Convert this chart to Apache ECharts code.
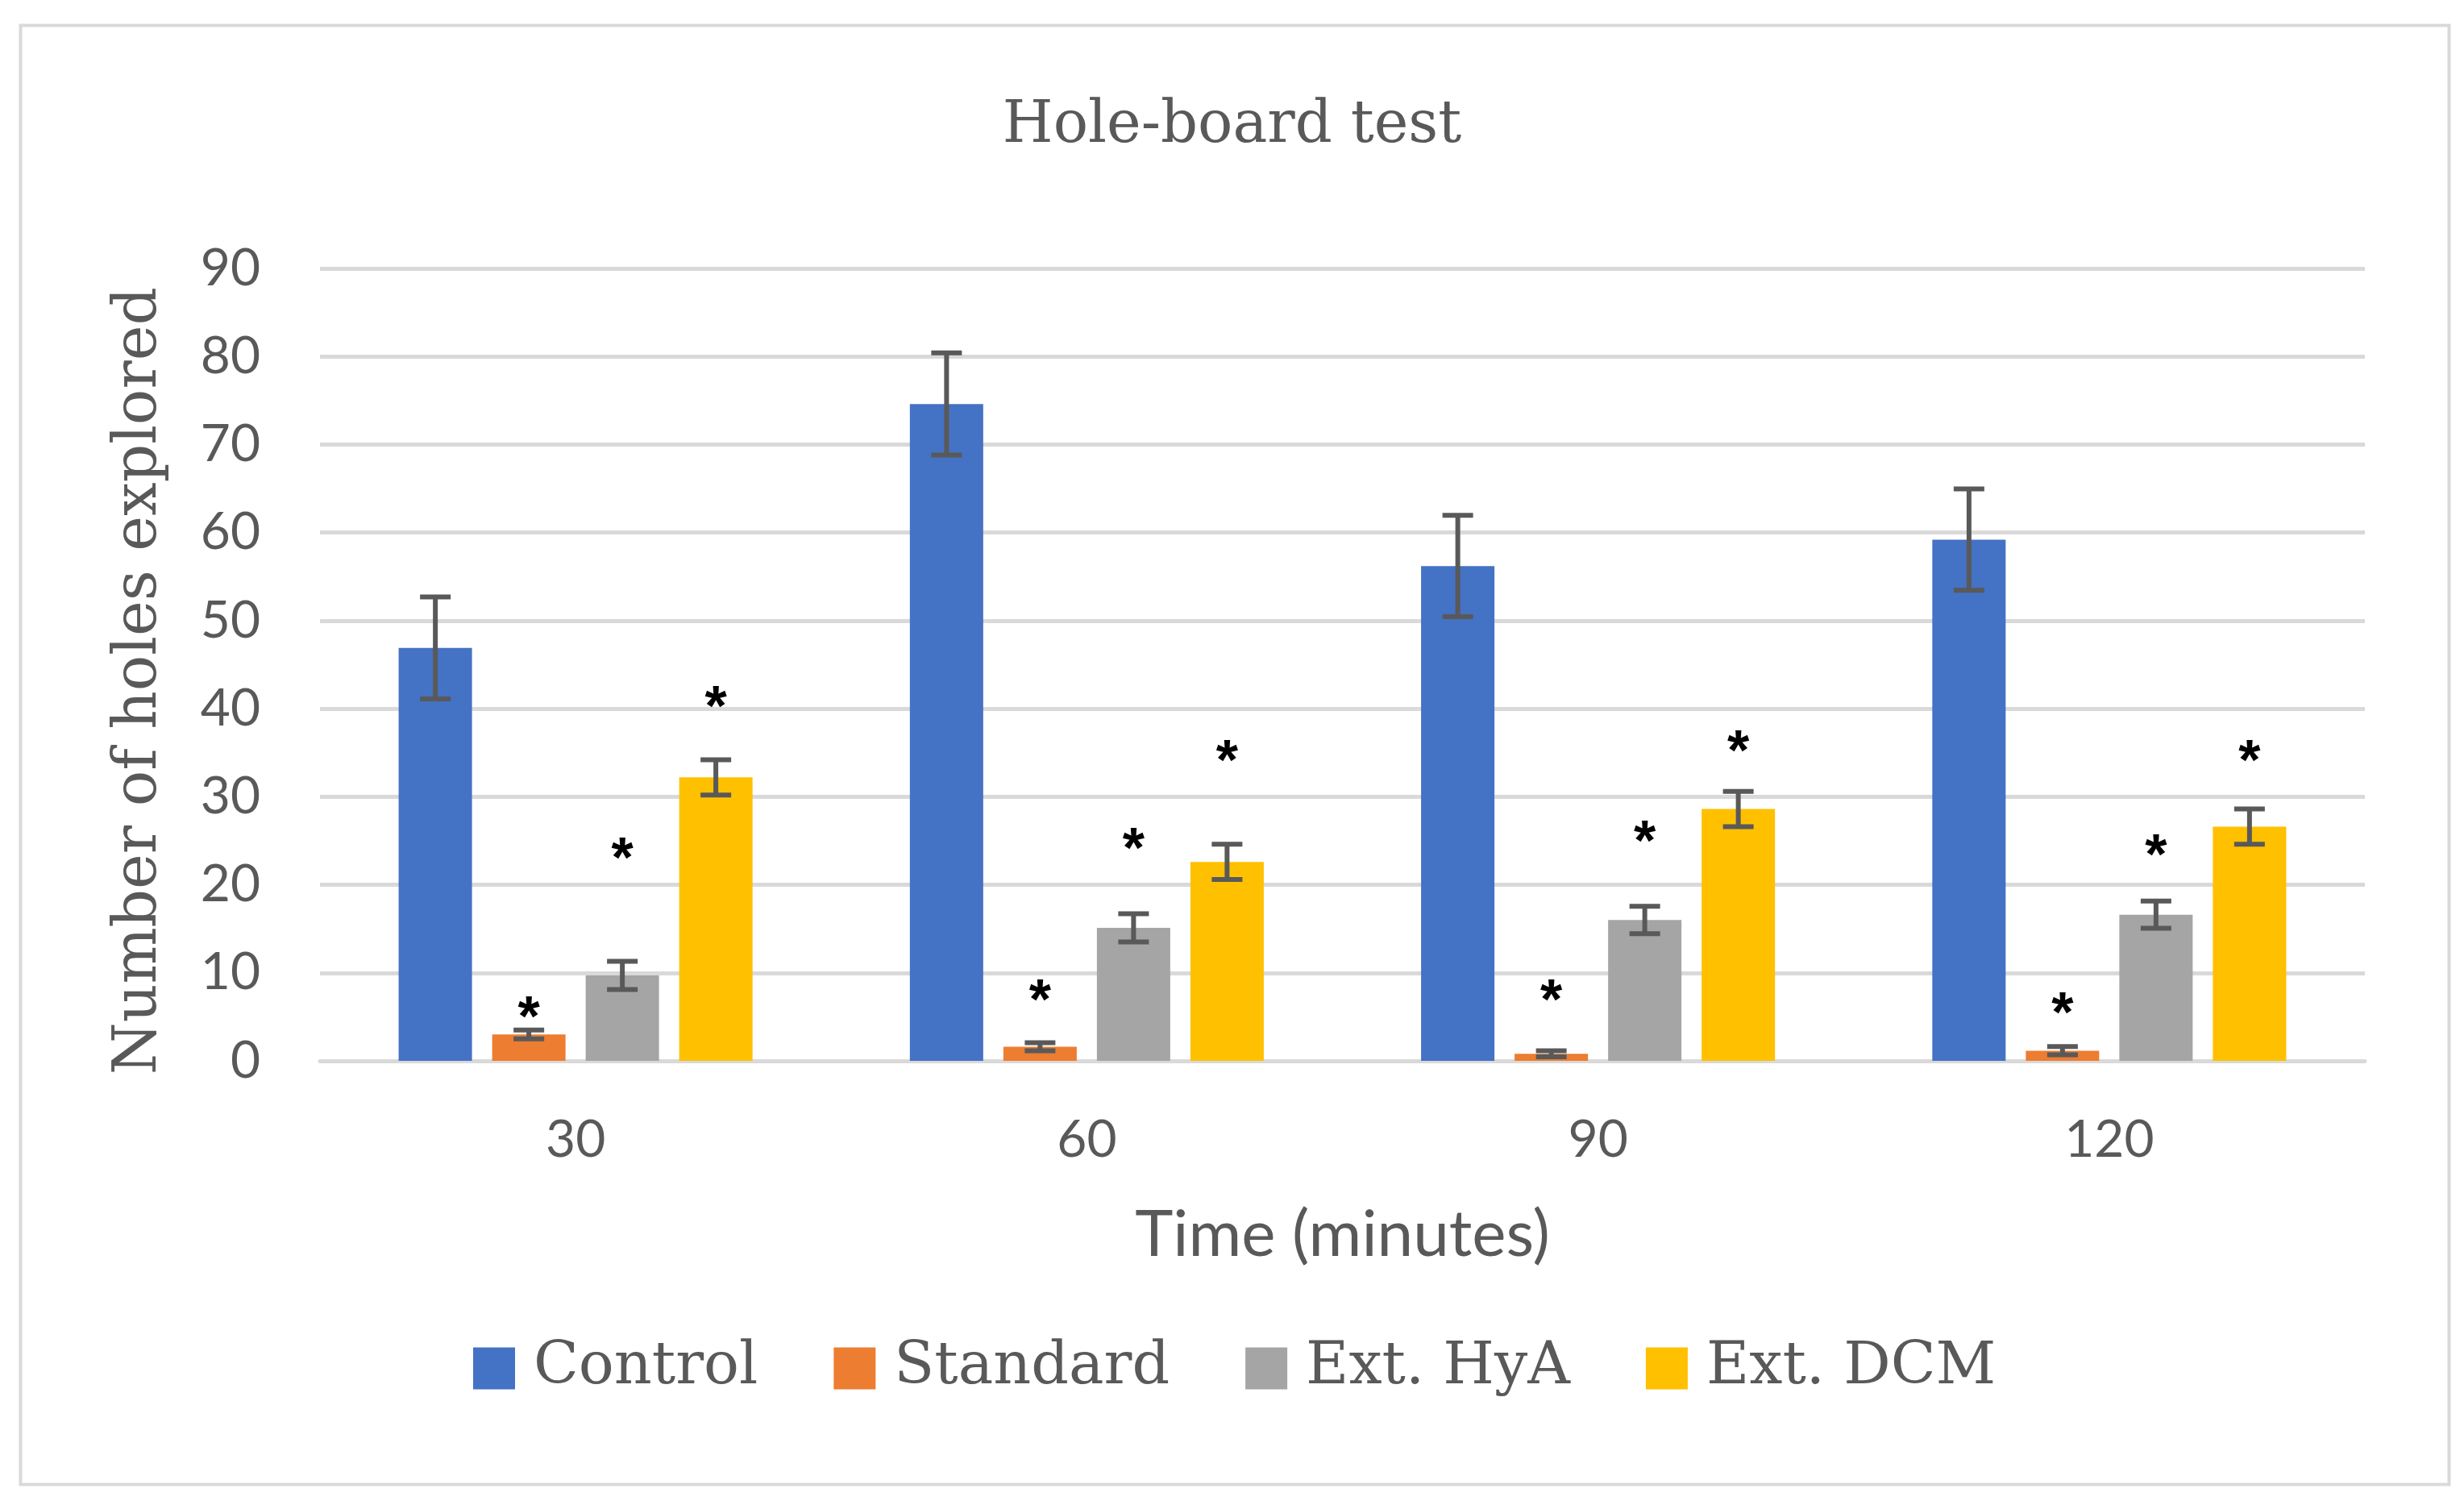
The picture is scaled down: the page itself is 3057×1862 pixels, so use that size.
<!DOCTYPE html>
<html>
<head>
<meta charset="utf-8">
<script src="https://cdn.jsdelivr.net/npm/echarts@6/dist/echarts.min.js"></script>
<style>
html,body{margin:0;padding:0;background:#fff;}
#chart{width:3057px;height:1862px;}
</style>
</head>
<body>
<div id="chart"></div>
<script>
// ---- data ----
const categories = ['30', '60', '90', '120'];
const seriesNames = ['Control', 'Standard', 'Ext. HyA', 'Ext. DCM'];
const yTicks = [0, 10, 20, 30, 40, 50, 60, 70, 80, 90];

const controlMean  = [46.9, 74.6, 56.2, 59.2];
const standardMean = [3.0, 1.6, 0.8, 1.15];
const hyaMean      = [9.7, 15.1, 16.0, 16.6];
const dcmMean      = [32.2, 22.6, 28.6, 26.6];

const controlErr  = [5.8, 5.8, 5.75, 5.75];
const standardErr = [0.5, 0.45, 0.35, 0.47];
const hyaErr      = [1.6, 1.6, 1.55, 1.55];
const dcmErr      = [2.0, 2.0, 2.0, 2.0];

// significance asterisk heights (value units); null = none
const controlStar  = [null, null, null, null];
const standardStar = [6.1, 8.0, 8.0, 6.5];
const hyaStar      = [24.1, 25.2, 26.0, 24.5];
const dcmStar      = [41.3, 35.2, 36.3, 35.2];

// ---- styles ----
const colors = ['#4472C4', '#ED7D31', '#A5A5A5', '#FFC000'];
const BAR_W = 91;
const BAR_GAP = 25;
const TEXT_GRAY = '#595959';

const means = [controlMean, standardMean, hyaMean, dcmMean];
const errs = [controlErr, standardErr, hyaErr, dcmErr];
const stars = [controlStar, standardStar, hyaStar, dcmStar];

const chart = echarts.init(document.getElementById('chart'), null, {renderer: 'canvas'});

function offsetFor(i) {
  return (i - (seriesNames.length - 1) / 2) * (BAR_W + BAR_GAP);
}

const barSeries = seriesNames.map((name, i) => ({
  name: name,
  type: 'bar',
  data: means[i],
  barWidth: BAR_W,
  barGap: (BAR_GAP / BAR_W * 100).toFixed(1) + '%',
  itemStyle: {color: colors[i]},
  z: 2
}));

const errSeries = seriesNames.map((name, i) => ({
  name: name + ' err',
  type: 'custom',
  data: categories.map((c, k) => [k, means[i][k], errs[i][k], stars[i][k]]),
  z: 5,
  silent: true,
  renderItem: function (params, api) {
    const k = api.value(0);
    const m = api.value(1);
    const e = api.value(2);
    const s = api.value(3);
    const dx = offsetFor(i);
    const top = api.coord([k, m + e]);
    const bot = api.coord([k, Math.max(m - e, 0)]);
    const x = top[0] + dx;
    const cap = 19;
    const st = {stroke: '#595959', lineWidth: 6};
    const children = [
      {type: 'line', shape: {x1: x, y1: top[1], x2: x, y2: bot[1]}, style: st},
      {type: 'line', shape: {x1: x - cap, y1: top[1], x2: x + cap, y2: top[1]}, style: st},
      {type: 'line', shape: {x1: x - cap, y1: bot[1], x2: x + cap, y2: bot[1]}, style: st}
    ];
    if (s !== null && s !== undefined && !isNaN(s)) {
      const p = api.coord([k, s]);
      children.push({
        type: 'text',
        x: x,
        y: p[1] + 16,
        style: {
          text: '*',
          fill: '#000',
          font: 'bold 70px "Liberation Sans"',
          align: 'center',
          verticalAlign: 'middle'
        }
      });
    }
    return {type: 'group', children: children};
  }
}));

const option = {
  backgroundColor: '#fff',
  animation: false,
  color: colors,
  title: {
    text: 'Hole-board test',
    left: 'center',
    top: 116,
    textStyle: {
      fontFamily: 'DejaVu Serif',
      fontWeight: 'normal',
      fontSize: 72,
      color: TEXT_GRAY
    }
  },
  legend: {
    data: seriesNames,
    left: 582,
    top: 1656,
    itemWidth: 52,
    itemHeight: 52,
    itemGap: 94,
    icon: 'rect',
    textStyle: {
      fontFamily: 'DejaVu Serif',
      fontSize: 73,
      color: TEXT_GRAY,
      padding: [0, 0, 0, 18]
    }
  },
  grid: {
    left: 397,
    right: 123,
    top: 333,
    bottom: 546,
    containLabel: false
  },
  xAxis: {
    type: 'category',
    data: categories,
    name: 'Time (minutes)',
    nameLocation: 'middle',
    nameGap: 176,
    nameTextStyle: {
      fontFamily: 'Lato',
      fontSize: 80,
      color: TEXT_GRAY
    },
    axisLine: {show: true, lineStyle: {color: '#d9d9d9', width: 5}},
    axisTick: {show: false},
    axisLabel: {
      margin: 66,
      fontFamily: 'Lato',
      fontSize: 64,
      color: TEXT_GRAY
    }
  },
  yAxis: {
    type: 'value',
    min: yTicks[0],
    max: yTicks[yTicks.length - 1],
    interval: yTicks[1] - yTicks[0],
    name: 'Number of holes explored',
    nameLocation: 'middle',
    nameGap: 186,
    nameTextStyle: {
      fontFamily: 'DejaVu Serif',
      fontSize: 74,
      color: TEXT_GRAY,
      padding: [0, 40, 0, 0]
    },
    axisLine: {show: false},
    axisTick: {show: false},
    splitLine: {lineStyle: {color: '#d9d9d9', width: 5}},
    axisLabel: {
      margin: 74,
      fontFamily: 'Lato',
      fontSize: 64,
      color: TEXT_GRAY
    }
  },
  graphic: [{
    type: 'rect',
    left: 23,
    top: 29,
    shape: {width: 3013, height: 1810},
    style: {fill: 'none', stroke: '#d9d9d9', lineWidth: 4},
    silent: true,
    z: -1
  }],
  series: barSeries.concat(errSeries)
};

chart.setOption(option);
</script>
</body>
</html>
